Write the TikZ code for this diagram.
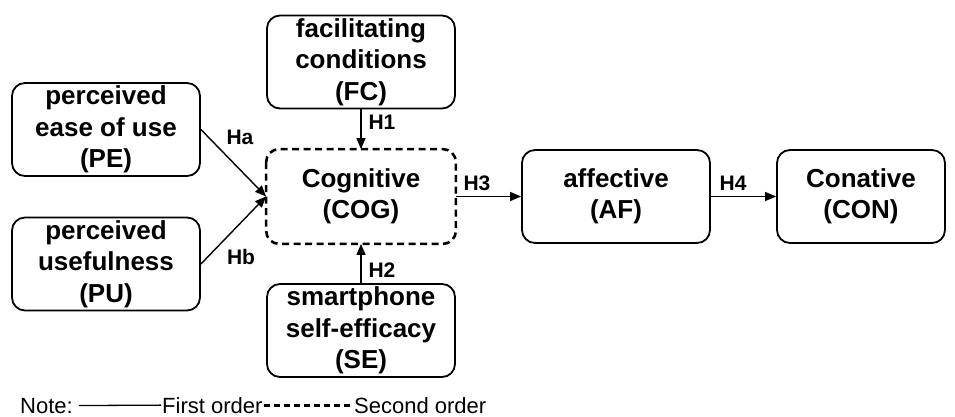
\documentclass[tikz,border=0pt]{standalone}
\usepackage{fontspec}
\setmainfont{Liberation Sans}
\usetikzlibrary{arrows.meta}
\begin{document}
\begin{tikzpicture}[x=1pt,y=-1pt,
  box/.style={draw, line width=1.8pt, rounded corners=13pt, align=center,
    minimum width=188pt, minimum height=93pt, inner sep=0pt,
    font=\fontsize{26}{31.5}\selectfont\bfseries},
  secondorder/.style={line width=2.6pt, dash pattern=on 7pt off 4.5pt},
  link/.style={line width=1.4pt, -{Triangle[length=11pt,width=9pt]}},
  hyp/.style={inner sep=0pt, font=\fontsize{21}{24}\selectfont\bfseries},
  legendtext/.style={inner xsep=1pt, inner ysep=0pt, font=\fontsize{22}{26}\selectfont}]
\useasboundingbox (0,0) rectangle (955,417);

% constructs
\node[box] (PE)  at (106,129.5) {perceived\\ease of use\\(PE)};
\node[box] (PU)  at (106,264)   {perceived\\usefulness\\(PU)};
\node[box] (FC)  at (361,62)    {facilitating\\conditions\\(FC)};
\node[box, draw=none] (COG) at (361,196.5) {Cognitive\\(COG)};
\draw[secondorder, rounded corners=13pt] (COG.north west) rectangle (COG.south east);
\node[box] (SE)  at (361,330.5) {smartphone\\self-efficacy\\(SE)};
\node[box] (AF)  at (616,196.5) {affective\\(AF)};
\node[box, minimum width=168pt] (CON) at (861,196.5) {Conative\\(CON)};

% hypothesised paths
\draw[link] (PE.east) -- (COG.west);
\draw[link] (PU.east) -- (COG.west);
\draw[link] (FC.south) -- (COG.north);
\draw[link] (SE.north) -- (COG.south);
\draw[link] (COG.east) -- (AF.west);
\draw[link] (AF.east) -- (CON.west);

\node[hyp] (ha) at (240,137) {Ha};
\node[hyp] (hb) at (241,257) {Hb};
\node[hyp] (h1) at (382,122) {H1};
\node[hyp] (h2) at (382,270) {H2};
\node[hyp] (h3) at (477,183) {H3};
\node[hyp] (h4) at (733,183) {H4};

% legend
\node[legendtext, anchor=base west] (note)   at (19,413)  {Note:};
\node[legendtext, anchor=base west] (first)  at (161,413) {First order};
\node[legendtext, anchor=base west] (second) at (353,413) {Second order};
\draw[line width=1.3pt] ([xshift=5pt]note.east) -- (first.west);
\draw[line width=3pt, dash pattern=on 6.5pt off 3.5pt] (first.east) -- (second.west);
\end{tikzpicture}
\end{document}
